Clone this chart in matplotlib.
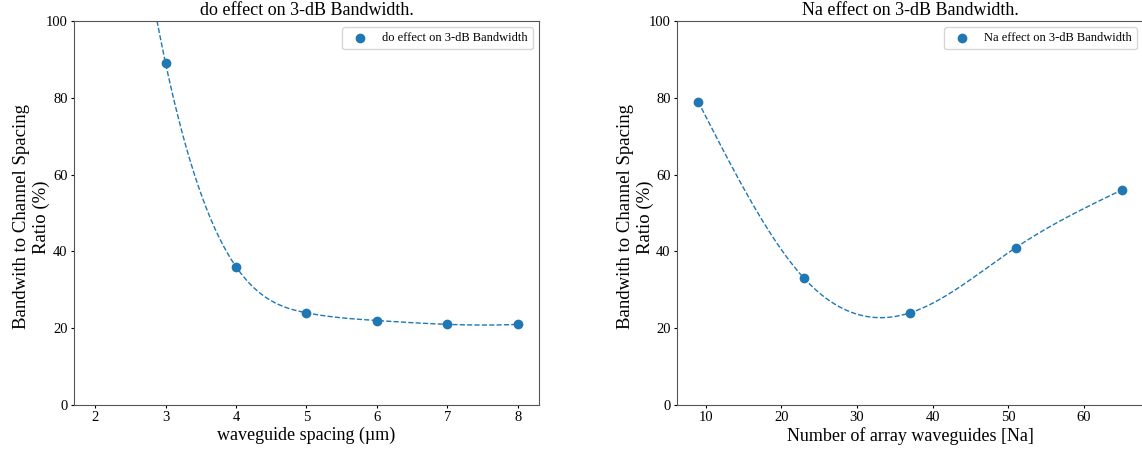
import numpy as np
import matplotlib
matplotlib.use("Agg")
import matplotlib.pyplot as plt

plt.rcParams['font.family'] = ['Liberation Serif', 'DejaVu Serif']

# Data
do_x = [3, 4, 5, 6, 7, 8]
do_y = [89, 36, 24, 22, 21, 21]
do_curve_range = [2, 8]

na_x = [9, 23, 37, 51, 65]
na_y = [79, 33, 24, 41, 56]

ylabel = "Bandwith to Channel Spacing\nRatio (%)"


def spline(x, y, xs, natural=False):
    x = np.asarray(x, float)
    y = np.asarray(y, float)
    n = len(x)
    h = np.diff(x)
    d = np.diff(y) / h
    A = np.zeros((n, n))
    b = np.zeros(n)
    if natural:
        A[0, 0] = 1
        A[n - 1, n - 1] = 1
    else:
        A[0, 0] = -1 / h[0]
        A[0, 1] = 1 / h[0] + 1 / h[1]
        A[0, 2] = -1 / h[1]
        A[n - 1, n - 3] = -1 / h[n - 3]
        A[n - 1, n - 2] = 1 / h[n - 3] + 1 / h[n - 2]
        A[n - 1, n - 1] = -1 / h[n - 2]
    for i in range(1, n - 1):
        A[i, i - 1] = h[i - 1]
        A[i, i] = 2 * (h[i - 1] + h[i])
        A[i, i + 1] = h[i]
        b[i] = 6 * (d[i] - d[i - 1])
    M = np.linalg.solve(A, b)
    xs = np.asarray(xs, float)
    idx = np.clip(np.searchsorted(x, xs) - 1, 0, n - 2)
    x0 = x[idx]; x1 = x[idx + 1]; hh = h[idx]
    y0 = y[idx]; y1 = y[idx + 1]; M0 = M[idx]; M1 = M[idx + 1]
    t1 = x1 - xs; t0 = xs - x0
    return (M0 * t1 ** 3 / (6 * hh) + M1 * t0 ** 3 / (6 * hh)
            + (y0 / hh - M0 * hh / 6) * t1 + (y1 / hh - M1 * hh / 6) * t0)


fig = plt.figure(figsize=(11.42, 4.51), dpi=100)
W, H = 1142, 451
ax1 = fig.add_axes([74 / W, 1 - 405 / H, (539 - 74) / W, (405 - 21) / H])
ax2 = fig.add_axes([677 / W, 1 - 405 / H, (1143 - 677) / W, (405 - 21) / H])

blue = '#1f77b4'

xs1 = np.linspace(do_curve_range[0], do_curve_range[1], 300)
ax1.plot(xs1, spline(do_x, do_y, xs1), '--', color=blue, lw=1)
ax1.scatter(do_x, do_y, color=blue, s=36, label='do effect on 3-dB Bandwidth', zorder=3)
ax1.set_xlim(1.7, 8.3)
ax1.set_ylim(0, 100)
ax1.set_title('do effect on 3-dB Bandwidth.', fontsize=13, pad=4)
ax1.set_xlabel('waveguide spacing (µm)', fontsize=13, labelpad=2)
ax1.set_ylabel(ylabel, fontsize=13.5)
ax1.yaxis.set_label_coords(-0.051, 0.49)

xs2 = np.linspace(min(na_x), max(na_x), 300)
ax2.plot(xs2, spline(na_x, na_y, xs2, natural=True), '--', color=blue, lw=1)
ax2.scatter(na_x, na_y, color=blue, s=36, label='Na effect on 3-dB Bandwidth', zorder=3)
ax2.set_xlim(6.2, 67.8)
ax2.set_ylim(0, 100)
ax2.set_title('Na effect on 3-dB Bandwidth.', fontsize=13, pad=4)
ax2.set_xlabel('Number of array waveguides [Na]', fontsize=13, labelpad=2)
ax2.set_ylabel(ylabel, fontsize=13.5)
ax2.yaxis.set_label_coords(-0.049, 0.49)

for ax in (ax1, ax2):
    ax.tick_params(labelsize=10.5, length=2.5, pad=2)
    for s in ax.spines.values():
        s.set_color('#555555')
    ax.legend(loc='upper right', fontsize=9)

fig.savefig('out.png', dpi=100)
